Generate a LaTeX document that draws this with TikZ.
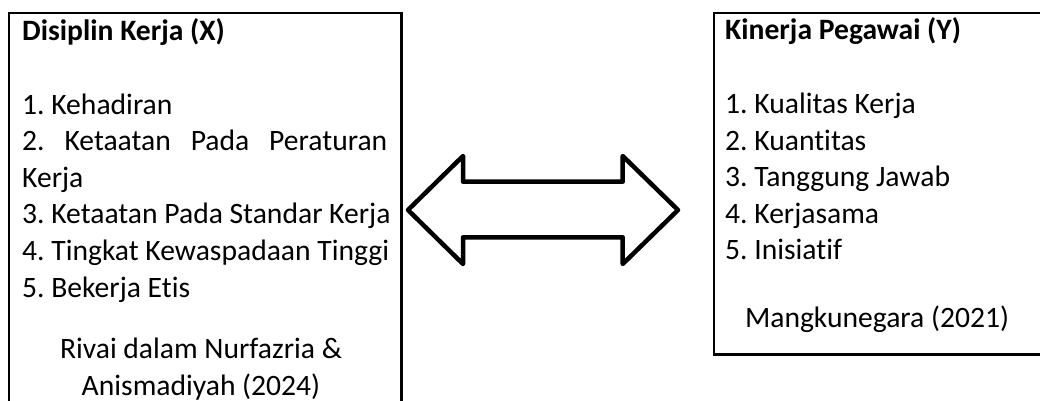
\documentclass[tikz,border=0pt]{standalone}
\usepackage{fontspec}
\setmainfont{Carlito}[Ligatures=NoCommon]
\frenchspacing
\begin{document}
\begin{tikzpicture}[x=1pt,y=-1pt,
  txt/.style={anchor=base west, inner sep=0pt, font=\fontsize{29.6}{36.6}\selectfont},
  ttl/.style={txt, font=\fontsize{29.6}{36.6}\selectfont\bfseries},
  ctr/.style={anchor=base, inner sep=0pt, font=\fontsize{29.6}{36.6}\selectfont},
  boxline/.style={draw=black, line width=2.6pt},
  arrowline/.style={draw=black, line width=4.5pt, line join=round, fill=white}]
\useasboundingbox (0,0) rectangle (1040,401);
\clip (0,0) rectangle (1040,401);
% boxes
\coordinate (LB1) at (9,13);
\coordinate (LB2) at (401.5,440);
\coordinate (RB1) at (714,13);
\coordinate (RB2) at (1070,354.5);
\draw[boxline] (LB1) rectangle (LB2);
\draw[boxline] (RB1) rectangle (RB2);
% left box text
\node[ttl] (lt) at (22,41) {Disiplin Kerja (X)};
\node[txt] (l1) at (22,114) {1. Kehadiran};
\node[txt] (l2) at (22,150.6) {\makebox[365pt][s]{2. Ketaatan Pada Peraturan}};
\node[txt] (l2b) at (22,187.2) {Kerja};
\node[txt] (l3) at (22,223.8) {3. Ketaatan Pada Standar Kerja};
\node[txt] (l4) at (22,260.4) {4. Tingkat Kewaspadaan Tinggi};
\node[txt] (l5) at (22,297) {5. Bekerja Etis};
\node[ctr] (lr1) at (201,358) {Rivai dalam Nurfazria \&};
\node[ctr] (lr2) at (201,395) {Anismadiyah (2024)};
% right box text
\node[ttl] (rt) at (725,40) {Kinerja Pegawai (Y)};
\node[txt] (r1) at (725,113.5) {1. Kualitas Kerja};
\node[txt] (r2) at (725,150.1) {2. Kuantitas};
\node[txt] (r3) at (725,186.7) {3. Tanggung Jawab};
\node[txt] (r4) at (725,223.3) {4. Kerjasama};
\node[txt] (r5) at (725,259.9) {5. Inisiatif};
\node[ctr] (rr) at (877,327) {Mangkunegara (2021)};
% double arrow
\coordinate (A1) at (408,210);
\coordinate (A2) at (463,156);
\coordinate (A3) at (463,181.7);
\coordinate (A4) at (622.7,181.7);
\coordinate (A5) at (622.7,156);
\coordinate (A6) at (678,210);
\coordinate (A7) at (622.7,264);
\coordinate (A8) at (622.7,237.3);
\coordinate (A9) at (463,237.3);
\coordinate (A10) at (463,264);
\draw[arrowline] (A1) -- (A2) -- (A3) -- (A4) -- (A5) -- (A6) -- (A7) -- (A8) -- (A9) -- (A10) -- cycle;
\end{tikzpicture}
\end{document}
